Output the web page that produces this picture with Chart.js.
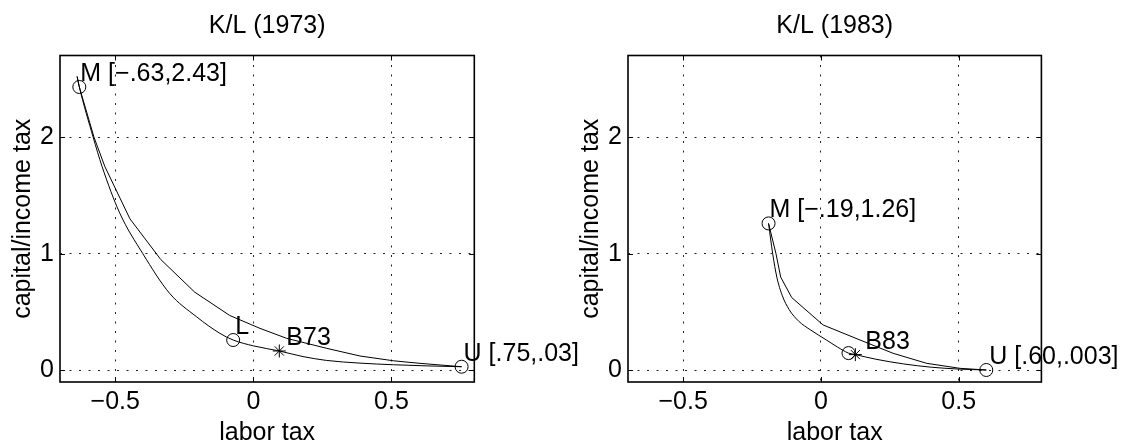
<!DOCTYPE html>
<html>
<head>
<meta charset="utf-8">
<script src="https://cdn.jsdelivr.net/npm/chart.js@4.4.0/dist/chart.umd.min.js"></script>
<style>
  html, body { margin: 0; padding: 0; background: #fff; overflow: hidden; }
  #wrap { position: relative; width: 1125px; height: 444px; }
  canvas { position: absolute; top: 0; }
  #c73 { left: 0; }
  #c83 { left: 560px; }
</style>
</head>
<body>
<div id="wrap">
  <canvas id="c73" width="600" height="444"></canvas>
  <canvas id="c83" width="565" height="444"></canvas>
</div>
<script>
// axes
const xTicks = [-0.5, 0, 0.5];
const xTickLabels = ["\u22120.5", "0", "0.5"];
const yTicks = [0, 1, 2];
const yTickLabels = ["0", "1", "2"];
const xRange = [-0.7, 0.8];
const yRange = [-0.1, 2.7];

// K/L 1973 curves
const outer73X = [-0.638, -0.63, -0.577, -0.538, -0.447, -0.335, -0.212, -0.085, 0.024, 0.12, 0.265, 0.386, 0.507, 0.603, 0.754];
const outer73Y = [2.52, 2.43, 2.0, 1.75, 1.3, 0.95, 0.67, 0.47, 0.36, 0.275, 0.189, 0.123, 0.082, 0.06, 0.031];
const inner73X = [-0.638, -0.63, -0.58, -0.548, -0.484, -0.4, -0.303, -0.206, -0.121, -0.073, 0.0, 0.094, 0.18, 0.265, 0.386, 0.507, 0.63, 0.754];
const inner73Y = [2.52, 2.43, 2.0, 1.75, 1.35, 1.0, 0.66, 0.46, 0.317, 0.26, 0.21, 0.166, 0.118, 0.085, 0.062, 0.048, 0.038, 0.031];
// K/L 1973 markers
const circles73X = [-0.63, -0.073, 0.754];
const circles73Y = [2.43, 0.26, 0.031];
const circles73Labels = ["M [\u2212.63,2.43]", "L", "U [.75,.03]"];
const stars73X = [0.094];
const stars73Y = [0.166];
const stars73Labels = ["B73"];

// K/L 1983 curves
const outer83X = [-0.19, -0.163, -0.146, -0.106, 0.008, 0.142, 0.262, 0.384, 0.505, 0.60];
const outer83Y = [1.26, 1.0, 0.8, 0.624, 0.389, 0.26, 0.146, 0.06, 0.017, 0.003];
const inner83X = [-0.19, -0.175, -0.16, -0.14, -0.115, -0.08, -0.04, 0.02, 0.06, 0.10, 0.125, 0.2, 0.3, 0.4, 0.5, 0.60];
const inner83Y = [1.26, 1.0, 0.8, 0.64, 0.52, 0.42, 0.35, 0.26, 0.2, 0.148, 0.135, 0.095, 0.055, 0.027, 0.011, 0.003];
// K/L 1983 markers
const circles83X = [-0.19, 0.10, 0.60];
const circles83Y = [1.26, 0.148, 0.003];
const circles83Labels = ["M [\u2212.19,1.26]", "", "U [.60,.003]"];
const stars83X = [0.125];
const stars83Y = [0.135];
const stars83Labels = ["B83"];

const FONT = "'Liberation Sans', Arial, Helvetica, sans-serif";

function pts(xs, ys) {
  return xs.map((x, i) => ({ x: x, y: ys[i] }));
}

// box, inner tick marks and point labels
const framePlugin = {
  id: "frame",
  afterDraw(chart) {
    const { ctx, chartArea: a, scales } = chart;
    ctx.save();
    ctx.strokeStyle = "#000";
    ctx.lineWidth = 1;
    ctx.beginPath();
    scales.x.ticks.forEach(t => {
      const px = Math.round(scales.x.getPixelForValue(t.value)) + 0.5;
      ctx.moveTo(px, a.bottom); ctx.lineTo(px, a.bottom - 5);
      ctx.moveTo(px, a.top); ctx.lineTo(px, a.top + 5);
    });
    scales.y.ticks.forEach(t => {
      const py = Math.round(scales.y.getPixelForValue(t.value)) + 0.5;
      ctx.moveTo(a.left, py); ctx.lineTo(a.left + 5, py);
      ctx.moveTo(a.right, py); ctx.lineTo(a.right - 5, py);
    });
    ctx.stroke();
    ctx.lineWidth = 1.6;
    ctx.strokeRect(a.left, a.top, a.right - a.left, a.bottom - a.top);

    ctx.font = "25px " + FONT;
    ctx.fillStyle = "#000";
    ctx.textAlign = "left";
    ctx.textBaseline = "alphabetic";
    chart.data.datasets.forEach((ds, i) => {
      if (!ds.labels) return;
      chart.getDatasetMeta(i).data.forEach((el, j) => {
        if (!ds.labels[j]) return;
        ctx.fillText(ds.labels[j], el.x + ds.labelDx[j], el.y - 6);
      });
    });
    ctx.restore();
  }
};

function makeChart(id, title, datasets, yAxisWidth, yTitlePad, padRight) {
  const tickFont = { size: 25, family: FONT };
  return new Chart(document.getElementById(id), {
    type: "scatter",
    data: { datasets: datasets },
    options: {
      responsive: false,
      animation: false,
      devicePixelRatio: 1,
      events: [],
      layout: { padding: { left: 0, right: padRight, top: 0, bottom: 0 } },
      plugins: {
        legend: { display: false },
        tooltip: { enabled: false },
        title: {
          display: true,
          text: title,
          fullSize: false,
          color: "#000",
          font: { size: 25, family: FONT, weight: "normal", lineHeight: 1.2 },
          padding: { top: 11.5, bottom: 14 }
        }
      },
      scales: {
        x: {
          type: "linear",
          min: xRange[0],
          max: xRange[1],
          afterBuildTicks: s => { s.ticks = xTicks.map(v => ({ value: v })); },
          afterFit: s => { s.height = 62; },
          ticks: {
            autoSkip: false, maxRotation: 0, padding: 5.5, color: "#000", font: tickFont,
            callback: v => xTickLabels[xTicks.indexOf(v)]
          },
          grid: { color: "#222", lineWidth: 1, drawTicks: false },
          border: { display: false, dash: [2, 7.5] },
          title: {
            display: true, text: "labor tax", color: "#000",
            font: { size: 25, family: FONT, lineHeight: 1 },
            padding: { top: 0, bottom: -1.8 }
          }
        },
        y: {
          type: "linear",
          min: yRange[0],
          max: yRange[1],
          afterBuildTicks: s => { s.ticks = yTicks.map(v => ({ value: v })); },
          afterFit: s => { s.width = yAxisWidth; },
          ticks: {
            autoSkip: false, padding: 6, color: "#000", font: tickFont,
            callback: v => yTickLabels[yTicks.indexOf(v)]
          },
          grid: { color: "#222", lineWidth: 1, drawTicks: false },
          border: { display: false, dash: [2, 7.5] },
          title: {
            display: true, text: "capital/income tax", color: "#000",
            font: { size: 25, family: FONT, lineHeight: 1 },
            padding: { top: yTitlePad, bottom: 0 }
          }
        }
      }
    },
    plugins: [framePlugin]
  });
}

function curve(xs, ys, smooth) {
  return {
    data: pts(xs, ys), showLine: true, pointRadius: 0,
    borderColor: "#000", borderWidth: 1, fill: false,
    tension: 0, cubicInterpolationMode: smooth ? "monotone" : "default"
  };
}
function markers(xs, ys, style, radius, labels, dx) {
  return {
    data: pts(xs, ys), showLine: false, pointStyle: style, pointRadius: radius,
    pointBorderColor: "#000", pointBackgroundColor: "rgba(0,0,0,0)", pointBorderWidth: 1,
    labels: labels, labelDx: dx
  };
}

makeChart("c73", "K/L (1973)", [
  markers(circles73X, circles73Y, "circle", 6.5, circles73Labels, [1, 2, 2]),
  markers(stars73X, stars73Y, "star", 6.5, stars73Labels, [7]),
  curve(inner73X, inner73Y, true),
  curve(outer73X, outer73Y, false)
], 60, 10.5, 125.7);

makeChart("c83", "K/L (1983)", [
  markers(circles83X, circles83Y, "circle", 6.5, circles83Labels, [1, 0, 3]),
  markers(stars83X, stars83Y, "star", 6.5, stars83Labels, [10]),
  curve(inner83X, inner83Y, true),
  curve(outer83X, outer83Y, false)
], 68, 18.5, 83.6);
</script>
</body>
</html>
